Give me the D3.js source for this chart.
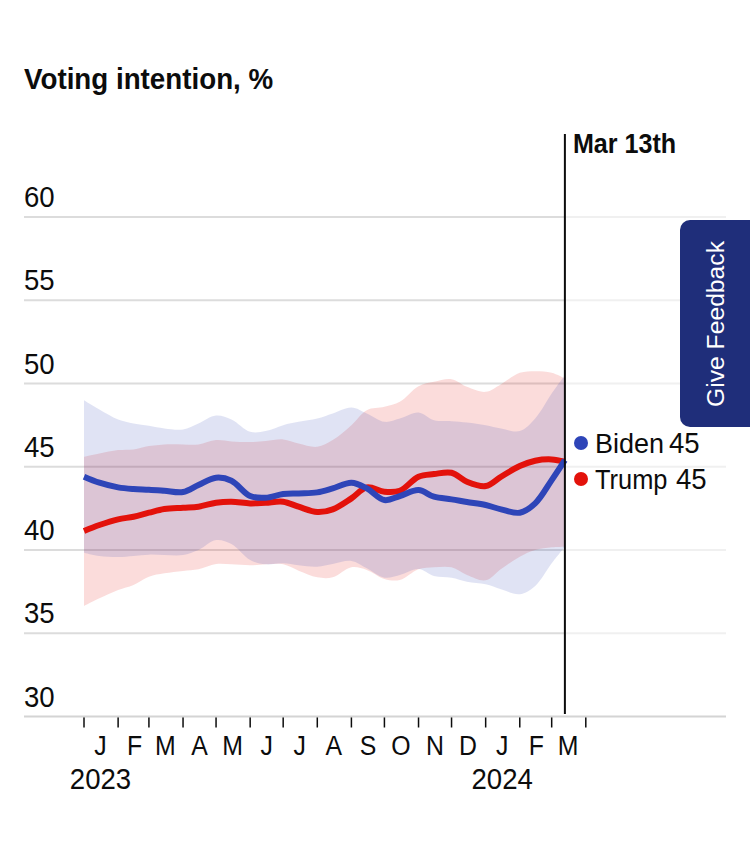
<!DOCTYPE html>
<html>
<head>
<meta charset="utf-8">
<script src="https://cdn.jsdelivr.net/npm/d3@7.9.0/dist/d3.min.js"></script>
<style>
  html, body { margin: 0; padding: 0; background: #fff; }
  svg { display: block; }
  text { font-family: "Liberation Sans", sans-serif; fill: #0c0c0c; }
</style>
</head>
<body>
<svg id="chart" width="750" height="866"></svg>
<script>
const dates = ["2023-01-01","2023-01-15","2023-02-01","2023-02-15","2023-03-01","2023-03-15","2023-04-01","2023-04-15",
  "2023-05-01","2023-05-15","2023-06-01","2023-06-15","2023-07-01","2023-07-15","2023-08-01","2023-08-15",
  "2023-09-01","2023-09-15","2023-10-01","2023-10-15","2023-11-01","2023-11-15","2023-12-01","2023-12-15",
  "2024-01-01","2024-01-15","2024-02-01","2024-02-15","2024-03-01","2024-03-13"];

const biden = [44.4,44.04,43.76,43.66,43.62,43.56,43.48,43.9,44.34,44.16,43.24,43.14,43.36,43.4,43.46,
  43.7,44.04,43.7,43,43.24,43.6,43.2,43.04,42.88,42.7,42.44,42.24,42.8,44.2,45.4];
const bidenUpper = [49,48.44,47.84,47.6,47.46,47.3,47.24,47.6,48.08,47.84,47.1,47.14,47.5,47.7,47.9,
  48.2,48.56,48.2,47.7,47.9,48.26,47.8,47.74,47.66,47.5,47.3,47.14,47.9,49.4,50.5];
const bidenLower = [39.84,39.64,39.58,39.64,39.72,39.7,39.7,40,40.6,40.36,39.4,39.14,39.2,39.08,39,
  39.16,39.34,38.9,38.34,38.5,38.86,38.44,38.34,38.1,37.94,37.64,37.34,37.84,39.2,40.2];

const trump = [41.14,41.5,41.84,42,42.24,42.46,42.54,42.6,42.84,42.9,42.8,42.84,42.9,42.6,42.28,
  42.44,43.1,43.76,43.5,43.56,44.4,44.56,44.64,44.1,43.84,44.4,45.04,45.36,45.44,45.3];
const trumpUpper = [45.6,45.8,46,46.04,46.24,46.34,46.34,46.34,46.6,46.52,46.48,46.54,46.64,46.4,46.2,
  46.6,47.5,48.4,48.6,48.9,49.84,50.1,50.26,49.8,49.5,49.96,50.64,50.74,50.64,50.3];
const trumpLower = [36.64,37.1,37.6,37.9,38.4,38.6,38.74,38.84,39.16,39.14,39.08,39.14,39.14,38.76,38.36,
  38.36,38.96,38.8,38.26,38.2,38.84,38.96,38.96,38.5,38.18,38.86,39.6,40,40.16,40.2];

const yTicks = [30,35,40,45,50,55,60];
const monthLabels = ["J","F","M","A","M","J","J","A","S","O","N","D","J","F","M"];
const yearLabels = [["2023-01-16","2023"],["2024-01-16","2024"]];
const lastDate = "2024-03-13";
const lastLabel = "Mar 13th";
const legendRows = [["Biden","45"],["Trump","45"]];

const BLUE = "#2e45b8", RED = "#e3120b";
const parse = d3.utcParse("%Y-%m-%d");
const svg = d3.select("#chart");

const x = d3.scaleUtc().domain([parse("2023-01-01"), parse("2024-04-01")]).range([84, 585.8]);
const y = d3.scaleLinear().domain([30, 60]).range([716.5, 217]);

// squeeze text horizontally, the original face is a condensed one
function narrow(sel, k) {
  sel.each(function () {
    d3.select(this)
      .attr("textLength", this.getComputedTextLength() * k)
      .attr("lengthAdjust", "spacingAndGlyphs");
  });
  return sel;
}

// title
svg.append("text").attr("x", 24).attr("y", 89)
  .style("font-size", "30px").style("font-weight", 700).text("Voting intention, %")
  .call(narrow, 0.925);

// gridlines, lighter past the last date
const xLast = x(parse(lastDate));
const grid = svg.append("g");
yTicks.filter(d => d > 30).forEach(d => {
  grid.append("line").attr("x1", 24).attr("x2", xLast).attr("y1", y(d)).attr("y2", y(d))
    .attr("stroke", "#dcdcdc").attr("stroke-width", 2);
  grid.append("line").attr("x1", xLast).attr("x2", 726).attr("y1", y(d)).attr("y2", y(d))
    .attr("stroke", "#f0f0f0").attr("stroke-width", 2);
});

// y labels
svg.append("g").selectAll("text").data(yTicks).join("text")
  .attr("x", 24).attr("y", d => y(d) - 10)
  .style("font-size", "29px").text(d => d)
  .call(narrow, 0.95);

// bands + lines
const xs = dates.map(parse);
const area = d3.area().x((d, i) => x(xs[i])).y0(d => y(d[0])).y1(d => y(d[1])).curve(d3.curveCatmullRom);
const line = d3.line().x((d, i) => x(xs[i])).y(d => y(d)).curve(d3.curveCatmullRom);

svg.append("path").attr("d", area(d3.zip(trumpLower, trumpUpper))).attr("fill", RED).attr("opacity", 0.15);
svg.append("path").attr("d", area(d3.zip(bidenLower, bidenUpper))).attr("fill", BLUE).attr("opacity", 0.15);

svg.append("path").attr("d", line(trump)).attr("fill", "none").attr("stroke", RED).attr("stroke-width", 6);
svg.append("path").attr("d", line(biden)).attr("fill", "none").attr("stroke", BLUE).attr("stroke-width", 6);

// x axis
const axis = svg.append("g").attr("transform", "translate(-0.5,716.5)")
  .call(d3.axisBottom(x).ticks(d3.utcMonth.every(1)).tickSize(11).tickFormat(""));
axis.select(".domain").remove();
axis.selectAll("line").attr("stroke", "#0c0c0c").attr("stroke-width", 1.5);
svg.append("line").attr("x1", 24).attr("x2", 726).attr("y1", y(30)).attr("y2", y(30))
  .attr("stroke", "#d4d4d4").attr("stroke-width", 2);

const monthStarts = d3.utcMonth.range(parse("2023-01-01"), parse("2024-04-01"));
svg.append("g").selectAll("text").data(monthLabels).join("text")
  .attr("x", (d, i) => x(d3.utcDay.offset(monthStarts[i], 15)))
  .attr("y", 755).attr("text-anchor", "middle")
  .style("font-size", "27px").text(d => d)
  .call(narrow, 0.92);

svg.append("g").selectAll("text").data(yearLabels).join("text")
  .attr("x", d => x(parse(d[0]))).attr("y", 789).attr("text-anchor", "middle")
  .style("font-size", "29px").text(d => d[1])
  .call(narrow, 0.95);

// last-date marker
svg.append("line").attr("x1", xLast).attr("x2", xLast).attr("y1", 134).attr("y2", 714)
  .attr("stroke", "#0c0c0c").attr("stroke-width", 2);
svg.append("text").attr("x", xLast + 8).attr("y", 153)
  .style("font-size", "27px").style("font-weight", 700).text(lastLabel)
  .call(narrow, 0.93);

// legend
const legendY = [443, 479], legendColor = [BLUE, RED], valueX = [669, 676], nameFit = [1, 0.94];
legendRows.forEach((d, i) => {
  svg.append("circle").attr("cx", 581).attr("cy", legendY[i]).attr("r", 7).attr("fill", legendColor[i]);
  svg.append("text").attr("x", 595).attr("y", legendY[i] + 10).style("font-size", "27px").text(d[0])
    .call(narrow, nameFit[i]);
  svg.append("text").attr("x", valueX[i]).attr("y", legendY[i] + 10).style("font-size", "29px").text(d[1])
    .call(narrow, 0.95);
});

// feedback tab
svg.append("path").attr("d", "M750,220H690a10,10 0 0 0 -10,10V417a10,10 0 0 0 10,10H750Z").attr("fill", "#1f2e7a");
svg.append("text").attr("transform", "translate(724,407) rotate(-90)")
  .attr("textLength", 166).attr("lengthAdjust", "spacingAndGlyphs")
  .style("font-size", "23px").style("fill", "#fff").text("Give Feedback");
</script>
</body>
</html>
